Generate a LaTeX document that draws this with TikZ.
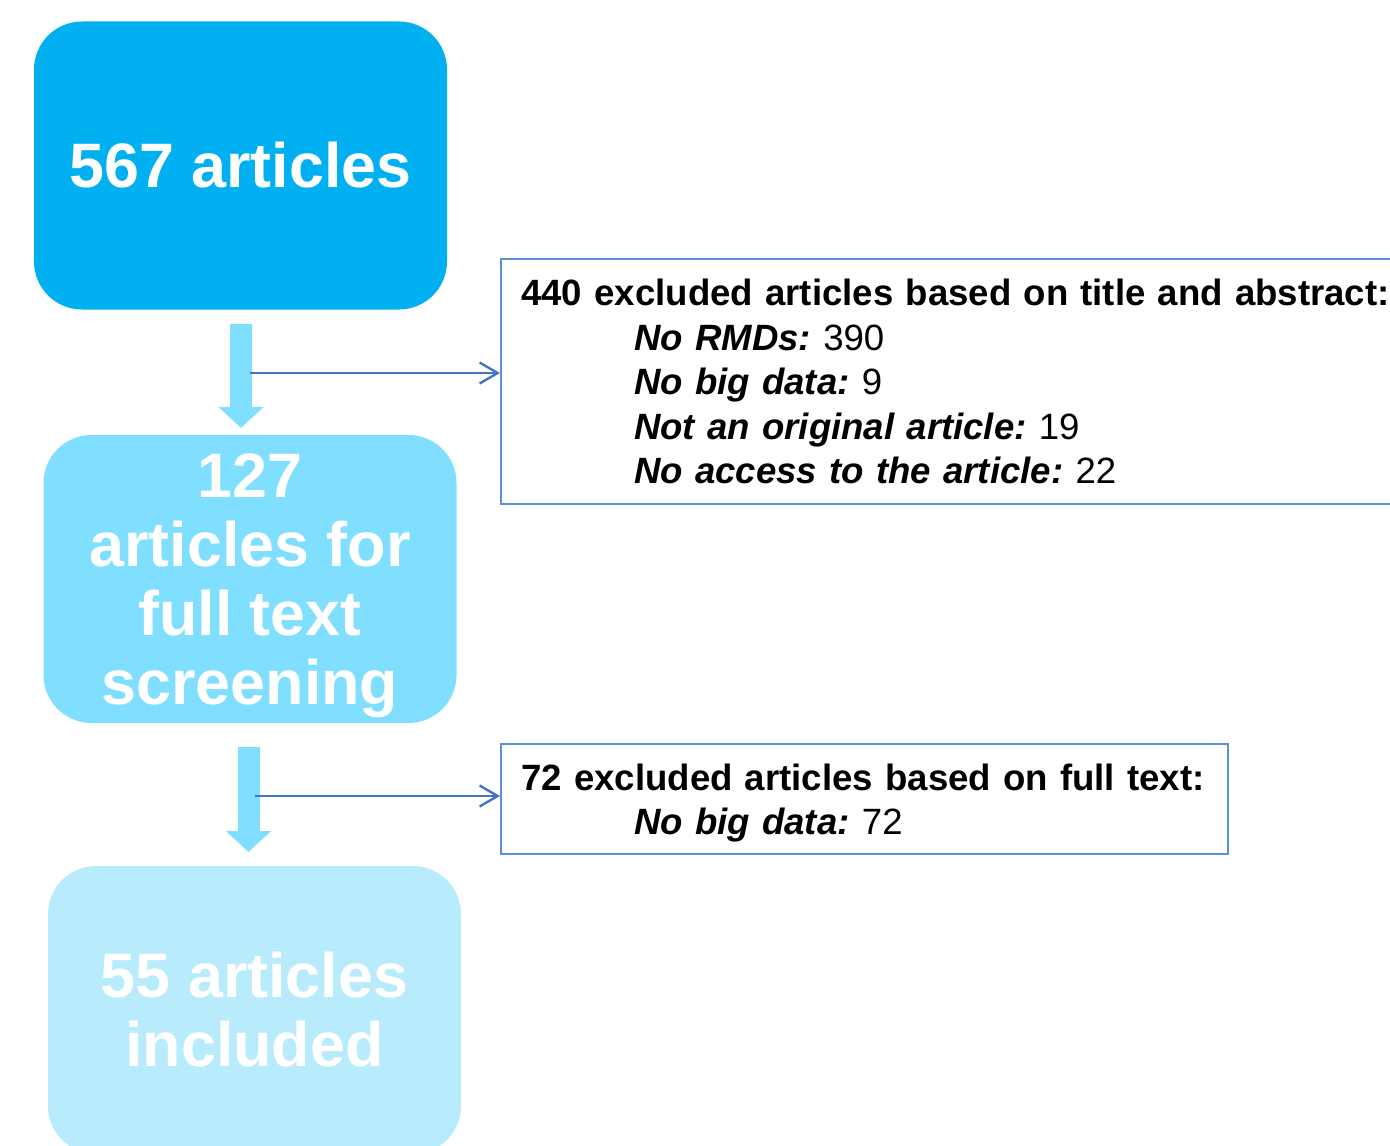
\documentclass[tikz,border=0pt]{standalone}
\usepackage{fontspec}
\setmainfont{Liberation Sans}
\usetikzlibrary{arrows.meta}
\frenchspacing

\definecolor{stagedark}{HTML}{00B0F0}
\definecolor{stagemid}{HTML}{80DFFF}
\definecolor{stagelight}{HTML}{B8ECFD}
\definecolor{linkblue}{HTML}{4472C4}
\definecolor{frameblue}{HTML}{5B8FD6}

\begin{document}
\begin{tikzpicture}[x=0.5pt, y=-0.5pt,
    stage/.style={rounded corners=24pt, minimum width=206.5pt, minimum height=144pt,
        inner sep=0pt, align=center, text=white,
        font=\fontsize{31.4}{34.5}\selectfont\bfseries},
    excl/.style={draw=frameblue, line width=1.2pt, anchor=north west, align=left,
        inner xsep=10pt, inner ysep=0pt, font=\fontsize{18.3}{22.25}\selectfont},
    fat/.style={draw=stagemid, line width=11pt, -{Triangle[length=10.5pt, width=22pt]}},
    thin/.style={draw=linkblue, line width=1.2pt, -{Straight Barb[length=9pt, width=10.5pt]}}]

    \useasboundingbox (0,0) rectangle (1390,1145);
    \clip (0,0) rectangle (1390,1145);

    % The three stages of the selection
    \node[stage, fill=stagedark] (found) at (240.5,165.5) {567 articles};
    \node[stage, fill=stagemid] (screen) at (250,579) {127\\articles for\\full text\\\smash{screening}};
    \node[stage, fill=stagelight] (kept) at (254.5,1010) {55 articles\\included};

    % The two exclusion boxes
    \node[excl, text width=445pt, minimum width=465pt, minimum height=122.5pt] (outA) at (500,258)
        {\textbf{440 excluded articles based on title and abstract:}\\
         \hspace*{56.5pt}\textbf{\textit{No RMDs:}} 390\\
         \hspace*{56.5pt}\textbf{\textit{No big data:}} 9\\
         \hspace*{56.5pt}\textbf{\textit{Not an original article:}} 19\\
         \hspace*{56.5pt}\textbf{\textit{No access to the article:}} 22};
    \node[excl, text width=343.5pt, minimum width=363.5pt, minimum height=55pt] (outB) at (500,743)
        {\textbf{72 excluded articles based on full text:}\\
         \hspace*{56.5pt}\smash{\textbf{\textit{No big data:}} 72}};

    % Ends of the wide arrows and the points where the thin ones branch off
    \coordinate (flowA) at (241,324);
    \coordinate (flowB) at (241,428);
    \coordinate (flowC) at (248.5,747);
    \coordinate (flowD) at (248.5,852);
    \coordinate (forkA) at (250,373);
    \coordinate (forkB) at (255,796);

    % Wide arrows between the stages
    \draw[fat] (flowA) -- (flowB);
    \draw[fat] (flowC) -- (flowD);

    % Thin arrows to the exclusion boxes
    \draw[thin] (forkA) -- (forkA -| outA.west);
    \draw[thin] (forkB) -- (forkB -| outB.west);

\end{tikzpicture}
\end{document}
